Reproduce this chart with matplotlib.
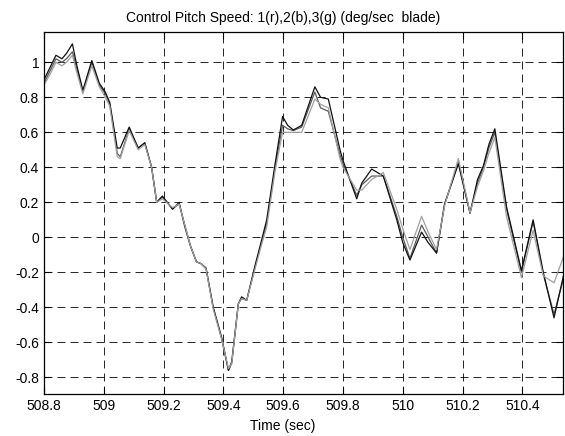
import numpy as np
import matplotlib
matplotlib.use("Agg")
import matplotlib.pyplot as plt

plt.rcParams['font.family'] = ['Liberation Sans', 'DejaVu Sans']

# -------------------------
# DATOS
# -------------------------
tiempo = [508.80, 508.82, 508.84, 508.86, 508.875, 508.895, 508.91, 508.93,
          508.96, 508.985, 509.005, 509.02, 509.045, 509.055, 509.085, 509.115,
          509.137, 509.16, 509.177, 509.196, 509.23, 509.252, 509.271, 509.29,
          509.31, 509.325, 509.342, 509.366, 509.394, 509.417, 509.428, 509.45,
          509.461, 509.478, 509.506, 509.528, 509.545, 509.573, 509.598, 509.615,
          509.634, 509.662, 509.706, 509.725, 509.751, 509.79, 509.80, 509.846,
          509.863, 509.896, 509.935, 509.98, 510.0, 510.024, 510.063, 510.085,
          510.113, 510.14, 510.186, 510.225, 510.25, 510.27, 510.288, 510.308,
          510.347, 510.397, 510.436, 510.47, 510.506, 510.54]

vel_1 = [0.88, 0.95, 1.02, 1.00, 1.02, 1.06, 0.96, 0.83,
         1.00, 0.87, 0.82, 0.76, 0.48, 0.46, 0.62, 0.51,
         0.54, 0.40, 0.20, 0.23, 0.165, 0.19, 0.07, -0.05,
         -0.14, -0.15, -0.18, -0.40, -0.58, -0.76, -0.72, -0.38,
         -0.35, -0.36, -0.17, -0.03, 0.08, 0.40, 0.64, 0.62,
         0.61, 0.63, 0.83, 0.74, 0.72, 0.47, 0.42, 0.24,
         0.30, 0.35, 0.35, 0.12, 0.00, -0.12, 0.07, 0.00,
         -0.09, 0.19, 0.43, 0.14, 0.31, 0.40, 0.51, 0.60,
         0.16, -0.20, 0.09, -0.21, -0.44, -0.22]

vel_2 = [0.90, 0.97, 1.04, 1.02, 1.05, 1.105, 0.98, 0.84,
         1.01, 0.88, 0.83, 0.77, 0.51, 0.51, 0.63, 0.51,
         0.54, 0.40, 0.20, 0.236, 0.16, 0.20, 0.06, -0.05,
         -0.14, -0.15, -0.175, -0.40, -0.57, -0.76, -0.71, -0.38,
         -0.34, -0.36, -0.16, -0.015, 0.10, 0.42, 0.69, 0.64,
         0.613, 0.64, 0.86, 0.80, 0.79, 0.50, 0.44, 0.22,
         0.31, 0.39, 0.35, 0.10, -0.03, -0.13, 0.03, -0.03,
         -0.09, 0.19, 0.42, 0.137, 0.33, 0.41, 0.53, 0.62,
         0.175, -0.19, 0.10, -0.20, -0.46, -0.20]

vel_3 = [0.87, 0.93, 1.00, 0.98, 1.00, 1.04, 0.94, 0.82,
         0.98, 0.86, 0.80, 0.75, 0.46, 0.45, 0.61, 0.50,
         0.53, 0.40, 0.20, 0.22, 0.17, 0.19, 0.07, -0.05,
         -0.14, -0.15, -0.18, -0.41, -0.58, -0.75, -0.72, -0.38,
         -0.35, -0.36, -0.18, -0.04, 0.06, 0.38, 0.60, 0.60,
         0.60, 0.60, 0.79, 0.76, 0.74, 0.45, 0.40, 0.27,
         0.27, 0.33, 0.37, 0.16, 0.05, -0.07, 0.12, 0.03,
         -0.07, 0.18, 0.45, 0.14, 0.29, 0.38, 0.48, 0.57,
         0.12, -0.23, 0.04, -0.22, -0.26, -0.10]

series = [(vel_1, '#5a5a5a'), (vel_2, '#111111'), (vel_3, '#a0a0a0')]

xticks = [508.8, 509, 509.2, 509.4, 509.6, 509.8, 510, 510.2, 510.4]
yticks = [-0.8, -0.6, -0.4, -0.2, 0, 0.2, 0.4, 0.6, 0.8, 1]

# -------------------------
# GRÁFICA
# -------------------------
fig = plt.figure(figsize=(5.65, 4.36), dpi=100)
ax = fig.add_axes([44/565, 42/436, 519/565, 362/436])

for vals, col in series:
    ax.plot(tiempo, vals, color=col, linewidth=0.9)

ax.set_xlim(508.8, 510.536)
ax.set_ylim(-0.895, 1.173)
ax.set_xticks(xticks)
ax.set_xticklabels(['%g' % v for v in xticks])
ax.set_yticks(yticks)
ax.set_yticklabels(['%g' % v for v in yticks])
ax.tick_params(direction='in', length=5, top=True, right=True, labelsize=10, width=0.8)
ax.grid(True, color='k', linewidth=0.6, linestyle=(0, (9.6, 6)))
for sp in ax.spines.values():
    sp.set_linewidth(0.9)

ax.set_title('Control Pitch Speed: 1(r),2(b),3(g) (deg/sec  blade)', fontsize=10, x=0.46, pad=7)
ax.set_xlabel('Time (sec)', fontsize=10)
ax.xaxis.set_label_coords(0.46, -0.07)

fig.savefig('out.png', dpi=100)
